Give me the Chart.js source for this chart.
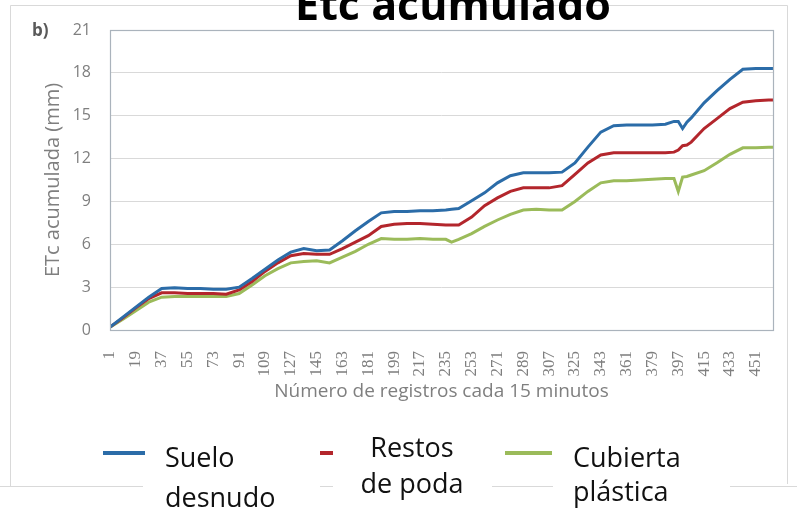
<!DOCTYPE html>
<html><head><meta charset="utf-8">
<script src="https://cdn.jsdelivr.net/npm/chart.js@4"></script>
<style>html,body{margin:0;padding:0;background:#fff;overflow:hidden}canvas{display:block}</style>
</head><body>
<canvas id="c" width="797" height="509"></canvas>
<script>
const chartTitle = "Etc acumulado";
const panelLabel = "b)";
const yAxisTitle = "ETc acumulada (mm)";
const xAxisTitle = "Número de registros cada 15 minutos";
const seriesNames = ["Suelo desnudo", "Restos de poda", "Cubierta plástica"];
const legendLines = [["Suelo", "desnudo"], ["Restos", "de poda"], ["Cubierta", "plástica"]];
const seriesColors = ["#2b6ca8", "#b3262c", "#9bbb5a"];

const records = [1,10,19,28,37,46,55,64,73,82,91,100,109,118,127,136,145,154,163,172,181,190,199,208,217,226,235,239,244,253,262,271,280,289,298,307,316,325,334,343,352,361,370,379,388,394,397,400,403,406,415,424,433,442,451,460,463];
const sueloDesnudo = [0.2,0.9,1.6,2.3,2.9,2.95,2.9,2.9,2.85,2.85,3.0,3.6,4.25,4.9,5.45,5.7,5.55,5.6,6.25,6.95,7.6,8.2,8.3,8.3,8.35,8.35,8.4,8.45,8.5,9.05,9.6,10.3,10.8,11.0,11.0,11.0,11.05,11.7,12.8,13.85,14.3,14.35,14.35,14.35,14.4,14.6,14.6,14.1,14.55,14.85,15.9,16.75,17.55,18.25,18.3,18.3,18.3];
const restosPoda = [0.2,0.85,1.55,2.2,2.6,2.6,2.55,2.55,2.55,2.5,2.8,3.4,4.1,4.7,5.2,5.35,5.3,5.3,5.7,6.15,6.6,7.25,7.4,7.45,7.45,7.4,7.35,7.35,7.35,7.9,8.7,9.25,9.7,9.95,9.95,9.95,10.1,10.9,11.7,12.25,12.4,12.4,12.4,12.4,12.4,12.45,12.6,12.9,12.95,13.15,14.1,14.8,15.5,15.95,16.05,16.1,16.1];
const cubiertaPlastica = [0.2,0.75,1.35,1.95,2.3,2.35,2.35,2.35,2.35,2.35,2.55,3.15,3.8,4.3,4.7,4.8,4.85,4.7,5.1,5.5,6.0,6.4,6.35,6.35,6.4,6.35,6.35,6.15,6.35,6.75,7.25,7.7,8.1,8.4,8.45,8.4,8.4,9.0,9.7,10.3,10.45,10.45,10.5,10.55,10.6,10.6,9.7,10.7,10.75,10.85,11.15,11.7,12.3,12.75,12.75,12.8,12.8];
const xTickLabels = [1,19,37,55,73,91,109,127,145,163,181,199,217,235,253,271,289,307,325,343,361,379,397,415,433,451];
const yMin = 0, yMax = 21, yStep = 3;

const seriesValues = [sueloDesnudo, restosPoda, cubiertaPlastica];

const decoPlugin = {
  id: 'deco',
  beforeDraw(chart) {
    const ctx = chart.ctx;
    ctx.save();
    ctx.fillStyle = '#ffffff';
    ctx.fillRect(0, 0, chart.width, chart.height);
    ctx.strokeStyle = '#d9d9d9';
    ctx.lineWidth = 1;
    ctx.beginPath();
    ctx.moveTo(10.5, 486); ctx.lineTo(10.5, 5.5); ctx.lineTo(787.5, 5.5); ctx.lineTo(787.5, 484);
    ctx.stroke();
    ctx.beginPath();
    ctx.moveTo(0, 486.5); ctx.lineTo(chart.width, 486.5);
    ctx.stroke();
    ctx.restore();
  },
  afterDraw(chart) {
    const ctx = chart.ctx;
    const a = chart.chartArea;
    ctx.save();
    ctx.strokeStyle = '#aab3bc';
    ctx.lineWidth = 1.2;
    ctx.strokeRect(Math.round(a.left) + 0.5, Math.round(a.top) + 0.5, Math.round(a.right - a.left), Math.round(a.bottom - a.top));
    ctx.fillStyle = '#000';
    ctx.font = 'bold 43px "Open Sans"';
    ctx.textAlign = 'center';
    ctx.textBaseline = 'alphabetic';
    ctx.fillText(chartTitle, 453, 20);
    ctx.fillStyle = '#595959';
    ctx.font = 'bold 17px "Open Sans"';
    ctx.textAlign = 'left';
    ctx.textBaseline = 'middle';
    ctx.fillText(panelLabel, 32, 31);
    const boxes = [[143, 320], [333, 492], [553, 730]];
    const swatches = [[103, 145], [320, 333], [505, 552]];
    const textPos = [
      {align: 'left', x: 165, ys: [467, 507]},
      {align: 'center', x: 412, ys: [457, 493]},
      {align: 'left', x: 573, ys: [467, 501]}
    ];
    ctx.fillStyle = '#fff';
    boxes.forEach(b => ctx.fillRect(b[0], 478, b[1] - b[0], 20));
    chart.data.datasets.forEach((ds, k) => {
      ctx.strokeStyle = ds.borderColor;
      ctx.lineWidth = 4;
      ctx.beginPath();
      ctx.moveTo(swatches[k][0], 453); ctx.lineTo(swatches[k][1], 453);
      ctx.stroke();
      ctx.fillStyle = '#111';
      ctx.font = '27px "Open Sans"';
      ctx.textAlign = textPos[k].align;
      ctx.textBaseline = 'alphabetic';
      legendLines[k].forEach((t, j) => ctx.fillText(t, textPos[k].x, textPos[k].ys[j]));
    });
    ctx.restore();
  }
};

new Chart(document.getElementById('c'), {
  type: 'line',
  data: {
    datasets: seriesNames.map((name, k) => ({
      label: name,
      data: records.map((r, i) => ({x: r, y: seriesValues[k][i]})),
      borderColor: seriesColors[k],
      backgroundColor: seriesColors[k],
      borderWidth: 3,
      pointRadius: 0,
      tension: 0,
      fill: false
    }))
  },
  options: {
    responsive: false,
    animation: false,
    devicePixelRatio: 1,
    layout: {padding: {left: 41, right: 24, top: 30, bottom: 106}},
    plugins: {legend: {display: false}, title: {display: false}, tooltip: {enabled: false}},
    scales: {
      x: {
        type: 'linear',
        min: records[0],
        max: records[records.length - 1],
        afterBuildTicks: s => { s.ticks = xTickLabels.map(v => ({value: v})); },
        afterFit: s => { s.height = 73; },
        grid: {display: false},
        border: {display: false},
        ticks: {
          autoSkip: false, maxRotation: 90, minRotation: 90, padding: 13,
          color: '#7f7f7f', font: {family: '"Liberation Serif"', size: 17}
        },
        title: {display: true, text: xAxisTitle, color: '#7f7f7f', padding: 0,
          font: {family: '"Open Sans"', size: 19}}
      },
      y: {
        min: yMin, max: yMax,
        afterFit: s => { s.width = 69; },
        grid: {color: '#d9d9d9', drawTicks: false, lineWidth: 1},
        border: {display: false},
        ticks: {stepSize: yStep, padding: 19, color: '#7f7f7f', font: {family: '"Open Sans"', size: 16}},
        title: {display: true, text: yAxisTitle, color: '#7f7f7f', padding: 0,
          font: {family: '"Open Sans"', size: 20}}
      }
    }
  },
  plugins: [decoPlugin]
});
</script>
</body></html>
